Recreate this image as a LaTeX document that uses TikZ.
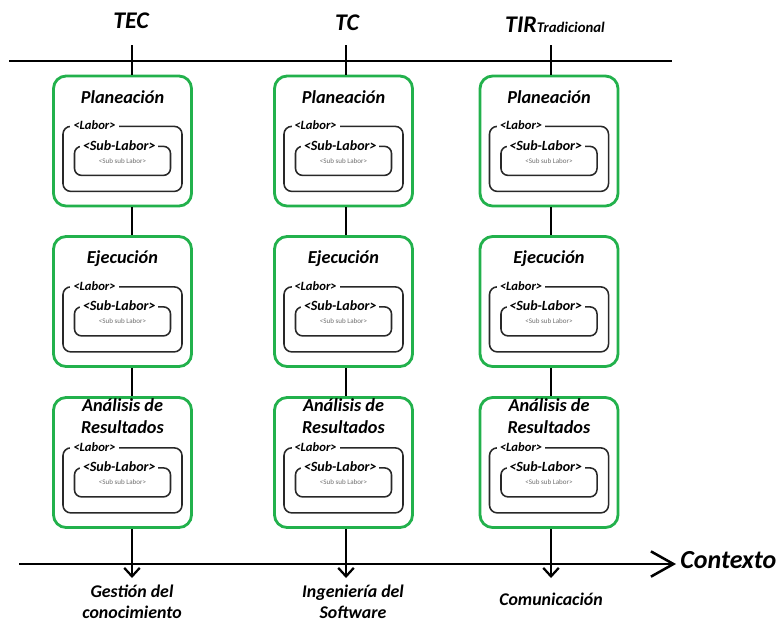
\documentclass[tikz,border=0pt]{standalone}
\usepackage{fontspec}
\setmainfont{Carlito}
\usetikzlibrary{positioning,arrows.meta,calc}

\definecolor{phasegreen}{RGB}{34,177,76}
\definecolor{boxgray}{RGB}{40,40,40}
\definecolor{subgray}{RGB}{110,110,110}

\begin{document}
\begin{tikzpicture}[x=0.025cm, y=-0.025cm]
    % Define styles
    \tikzset{
        axis/.style={line width=2pt, black},
        link/.style={line width=1.6pt, black},
        flow/.style={line width=1.6pt, black, -{Straight Barb[length=6pt, width=11pt]}},
        context/.style={line width=1.8pt, black, -{Straight Barb[length=16pt, width=18pt]}},
        phase/.style={draw=phasegreen, line width=2pt, rounded corners=9pt, fill=white,
            minimum width=3.45cm, minimum height=3.25cm, inner sep=0pt},
        laborbox/.style={draw=boxgray, line width=1.1pt, rounded corners=5.5pt,
            minimum width=2.975cm, minimum height=1.625cm, inner sep=0pt},
        sublaborbox/.style={draw=boxgray, line width=1.1pt, rounded corners=5pt,
            minimum width=2.4cm, minimum height=0.725cm, inner sep=0pt},
        heading/.style={font=\fontsize{17}{20}\selectfont\bfseries\itshape, inner sep=0pt},
        phasename/.style={font=\fontsize{13}{15.6}\selectfont\bfseries\itshape, inner sep=0pt, align=center},
        laborlabel/.style={font=\fontsize{9}{10}\selectfont\bfseries\itshape, fill=white, inner xsep=2pt, inner ysep=0pt},
        sublabel/.style={font=\fontsize{10}{11}\selectfont\bfseries\itshape, fill=white, inner xsep=2pt, inner ysep=0pt},
        subsub/.style={font=\fontsize{5}{6}\selectfont, text=subgray, inner sep=0pt},
        areaname/.style={font=\fontsize{12.7}{14.5}\selectfont\bfseries\itshape, inner sep=0pt, align=center}
    }
    \useasboundingbox (0,0) rectangle (780,621);

    % Draw axes
    \coordinate (top0) at (9,61);
    \coordinate (top1) at (672,61);
    \coordinate (base0) at (19,564);
    \coordinate (base1) at (676,564);
    \draw[axis] (top0) -- (top1);
    \draw[context] (base0) -- (base1);
    \node[heading, font=\fontsize{18.5}{21}\selectfont\bfseries\itshape, anchor=base west] (ctx) at (680,568) {Contexto};

    % Column headings
    \node[heading, anchor=base] (tec) at (131,28) {TEC};
    \node[heading, anchor=base] (tc) at (347,30) {TC};
    \node[heading, anchor=base] (tir) at (555,32) {TIR\fontsize{10.5}{12}\selectfont Tradicional};

    % Draw the three columns
    \foreach \c/\bx/\lx in {1/122.5/132, 2/343.5/346, 3/549/551} {
        \node[phase] (p\c) at (\bx,141) {};
        \node[phase] (e\c) at (\bx,301.5) {};
        \node[phase] (a\c) at (\bx,462.5) {};

        \node[phasename, anchor=base] (pn\c) at ($(p\c.north)+(0,29)$) {Planeación};
        \node[phasename, anchor=base] (en\c) at ($(e\c.north)+(0,28)$) {Ejecución};
        \node[phasename, anchor=north] (an\c) at ($(a\c.north)+(0,2)$) {Análisis de\\Resultados};

        % Labor boxes
        \foreach \ph in {p,e,a} {
            \node[laborbox, below=1.275cm of \ph\c.north] (\ph l\c) {};
            \node[sublaborbox, below=0.5cm of \ph l\c.north] (\ph s\c) {};
            \node[laborlabel, right=0.2cm of \ph l\c.north west] (\ph ll\c) {<Labor>};
            \node[sublabel, right=0.15cm of \ph s\c.north west] (\ph sl\c) {<Sub-Labor>};
            \node[subsub] (\ph ss\c) at (\ph s\c.center) {<Sub sub Labor>};
        }

        % Connectors
        \coordinate (col\c) at (\lx,45);
        \coordinate (out\c) at (\lx,578);
        \draw[link] (col\c) -- (col\c |- p\c.north);
        \draw[link] (col\c |- p\c.south) -- (col\c |- e\c.north);
        \draw[link] (col\c |- e\c.south) -- (col\c |- a\c.north);
        \draw[flow] (col\c |- a\c.south) -- (out\c);
    }

    % Knowledge areas
    \node[areaname, anchor=north] (gc) at (132,585) {Gestión del\\conocimiento};
    \node[areaname, anchor=north] (is) at (353,585) {Ingeniería del\\Software};
    \node[areaname, anchor=base] (com) at (551,605) {Comunicación};
\end{tikzpicture}
\end{document}
